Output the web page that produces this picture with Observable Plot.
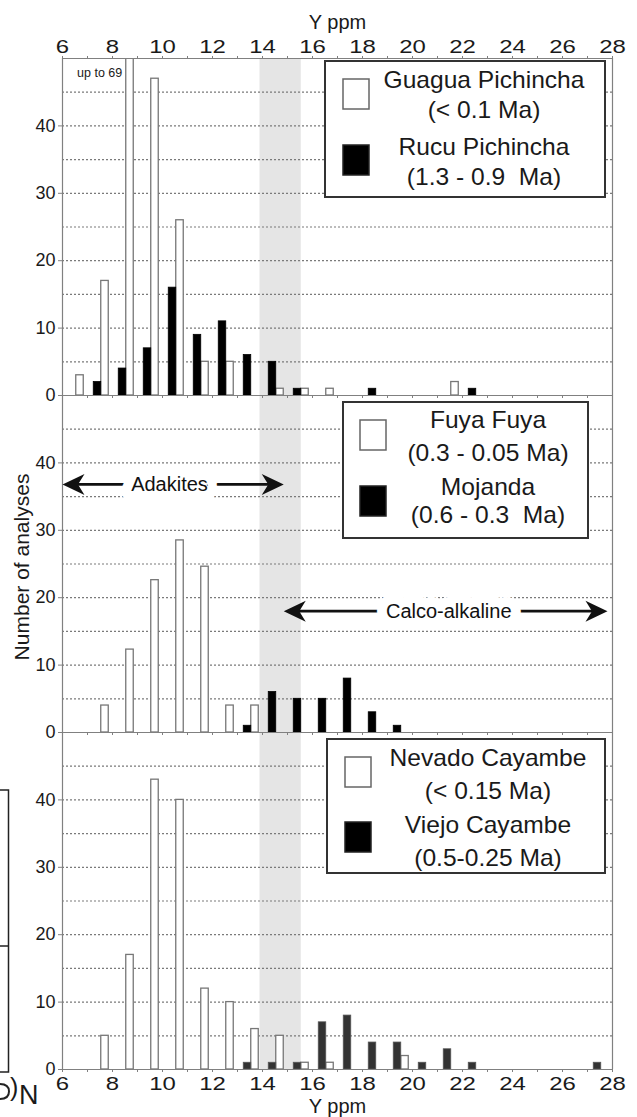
<!DOCTYPE html>
<html><head><meta charset="utf-8">
<script src="https://cdn.jsdelivr.net/npm/d3@7"></script>
<script src="https://cdn.jsdelivr.net/npm/@observablehq/plot@0.6"></script>
<style>
body{margin:0;background:#fff;}
#wrap{position:relative;width:637px;height:1117px;overflow:hidden;font-family:"Liberation Sans",Arial,sans-serif;}
#wrap svg{display:block}
</style></head><body><div id="wrap"></div>
<script>
// ---- data ----
const panels = ["Pichincha", "Mojanda / Fuya Fuya", "Cayambe"];

const guaguaBins   = [6, 7, 8, 9, 10, 11, 12, 14, 15, 16, 21];
const guaguaCounts = [3, 17, 69, 47, 26, 5, 5, 1, 1, 1, 2];
const rucuBins     = [7, 8, 9, 10, 11, 12, 13, 14, 15, 18, 22];
const rucuCounts   = [2, 4, 7, 16, 9, 11, 6, 5, 1, 1, 1];

const fuyaBins     = [7, 8, 9, 10, 11, 12, 13];
const fuyaCounts   = [4, 12.3, 22.6, 28.5, 24.6, 4, 4];
const mojandaBins  = [13, 14, 15, 16, 17, 18, 19];
const mojandaCounts= [1, 6, 5, 5, 8, 3, 1];

const nevadoBins   = [7, 8, 9, 10, 11, 12, 13, 14, 15, 16, 19];
const nevadoCounts = [5, 17, 43, 40, 12, 10, 6, 5, 1, 1, 2];
const viejoBins    = [13, 14, 15, 16, 17, 18, 19, 20, 21, 22, 27];
const viejoCounts  = [1, 1, 1, 7, 8, 4, 4, 1, 3, 1, 1];

const xTickLabels = [6, 8, 10, 12, 14, 16, 18, 20, 22, 24, 26, 28];
const xMinorTicks = [6,7,8,9,10,11,12,13,14,15,16,17,18,19,20,21,22,23,24,25,26,27,28];
const yTickLabels = [0, 10, 20, 30, 40];
const gridLevels  = [5, 10, 15, 20, 25, 30, 35, 40, 45];
const countMax = 50;
const transitionBand = [13.9, 15.55];

const legendEntries = [
  [["Guagua Pichincha", "(< 0.1 Ma)"], ["Rucu Pichincha", "(1.3 - 0.9  Ma)"]],
  [["Fuya Fuya", "(0.3 - 0.05 Ma)"], ["Mojanda", "(0.6 - 0.3  Ma)"]],
  [["Nevado Cayambe", "(< 0.15 Ma)"], ["Viejo Cayambe", "(0.5-0.25 Ma)"]]
];

const rangeArrows = [
  {panel: panels[1], label: "Adakites", from: 6, to: 14.85, level: 36.8, labelAt: 10.28},
  {panel: panels[1], label: "Calco-alkaline", from: 14.85, to: 27.8, level: 18, labelAt: 21.45}
];

// ---- build table ----
const series = [
  {panel: panels[0], kind: "young", bins: guaguaBins, counts: guaguaCounts},
  {panel: panels[0], kind: "old", bins: rucuBins, counts: rucuCounts},
  {panel: panels[1], kind: "young", bins: fuyaBins, counts: fuyaCounts},
  {panel: panels[1], kind: "old", bins: mojandaBins, counts: mojandaCounts},
  {panel: panels[2], kind: "young", bins: nevadoBins, counts: nevadoCounts},
  {panel: panels[2], kind: "old", bins: viejoBins, counts: viejoCounts}
];
const bars = series.flatMap(s => s.bins.map((b, i) => ({panel: s.panel, kind: s.kind, bin: b, count: s.counts[i]})));
const youngBars = bars.filter(d => d.kind === "young");
const oldBars = bars.filter(d => d.kind === "old");
const clippedBars = bars.filter(d => d.count > countMax);

const arrowHead = {
  draw(ctx) {
    ctx.moveTo(0, 0);
    ctx.lineTo(-22, -10.5);
    ctx.lineTo(-15.5, 0);
    ctx.lineTo(-22, 10.5);
    ctx.closePath();
  }
};

const ink = "#1a1a1a";
const axisGray = "#808080";

const chart = Plot.plot({
  width: 637,
  height: 1117,
  marginTop: 57,
  marginBottom: 48,
  marginLeft: 62,
  marginRight: 25,
  style: {fontFamily: "'Liberation Sans', Arial, sans-serif", fontSize: "18px", color: ink, background: "white", overflow: "visible"},
  x: {domain: [6, 28]},
  y: {domain: [0, countMax]},
  fy: {domain: panels, padding: 0, axis: null},
  marks: [
    Plot.rect([transitionBand], {x1: d => d[0], x2: d => d[1], fill: "#e5e5e5"}),
    Plot.ruleY(gridLevels, {stroke: "#7a7a7a", strokeDasharray: "2,2", strokeWidth: 1.2}),
    Plot.rect(youngBars, {x1: d => d.bin + 0.55, x2: d => d.bin + 0.85, y1: 0, y2: "count", fy: "panel",
      fill: "white", stroke: "#777", strokeWidth: 1.3, clip: true}),
    Plot.rect(oldBars, {x1: d => d.bin + 0.25, x2: d => d.bin + 0.55, y1: 0, y2: "count", fy: "panel",
      fill: d => d.panel === panels[2] ? "#333" : "#000", stroke: d => d.panel === panels[2] ? "#555" : "#000", strokeWidth: 0.8}),
    Plot.ruleY([0, countMax], {stroke: axisGray, strokeWidth: 1.2}),
    Plot.ruleX([6, 28], {stroke: axisGray, strokeWidth: 1.2}),
    // minor ticks on each panel base
    Plot.axisX({anchor: "bottom", facetAnchor: null, ticks: xMinorTicks, tickSize: 3, tickFormat: () => "", label: null, stroke: axisGray}),
    Plot.axisX({anchor: "top", ticks: xMinorTicks, tickSize: 3, tickFormat: () => "", label: null, stroke: axisGray}),
    Plot.axisX({anchor: "top", ticks: xTickLabels, tickSize: 0, tickPadding: 6, label: null, fontSize: 18}),
    Plot.axisX({anchor: "bottom", ticks: xTickLabels, tickSize: 0, tickPadding: 8, label: null, fontSize: 18}),
    Plot.axisY({ticks: yTickLabels, tickSize: 4, tickPadding: 3, label: null, facetAnchor: null, fontSize: 18, stroke: axisGray}),
    Plot.text(["Y ppm"], {fy: () => panels[0], frameAnchor: "top", dy: -30, lineAnchor: "bottom", fontSize: 20, fill: ink}),
    Plot.text(["Y ppm"], {fy: () => panels[2], frameAnchor: "bottom", dy: 43, lineAnchor: "bottom", fontSize: 20, fill: ink}),
    Plot.text(["Number of analyses"], {fy: () => panels[1], frameAnchor: "left", dx: -40, dy: 3, rotate: -90,
      textAnchor: "middle", fontSize: 21, fill: ink}),
    Plot.text(clippedBars, {x: d => d.bin + 0.55, fy: "panel", frameAnchor: "top", dx: -4, dy: 10, textAnchor: "end",
      text: d => `up to ${d.count}`, fontSize: 12.5, fill: ink}),
    // range annotations
    Plot.arrow(rangeArrows, {x1: "from", x2: "to", y1: "level", y2: "level", fy: "panel", headLength: 0,
      insetStart: 14, insetEnd: 14, strokeWidth: 2.7, stroke: "#111"}),
    Plot.text(rangeArrows, {x: "labelAt", y: "level", fy: "panel", text: "label", fontSize: 20, fill: "#111",
      stroke: "white", strokeWidth: 20, strokeLinejoin: "round", paintOrder: "stroke"}),
    Plot.dot(rangeArrows, {x: "from", y: "level", fy: "panel", symbol: arrowHead, rotate: 180, fill: "#111", stroke: "none"}),
    Plot.dot(rangeArrows, {x: "to", y: "level", fy: "panel", symbol: arrowHead, fill: "#111", stroke: "none"})
  ]
});

const wrap = document.getElementById("wrap");
wrap.append(chart);

// stretch x tick labels horizontally (reference uses wide digits)
d3.select(chart).selectAll('g[aria-label="x-axis tick label"] text').each(function() {
  const t = this.getAttribute("transform");
  if (t) this.setAttribute("transform", t + " scale(1.33,1)");
});

// ---- legends (overlay) ----
const legendLayout = [
  {box: [325, 61, 280, 136], sqX: 343, sqY: [79, 145], cx: 484, base: [88, 118, 155, 185]},
  {box: [343, 402, 245, 136], sqX: 360, sqY: [420, 486], cx: 488, base: [428, 461, 495, 523]},
  {box: [327, 739, 278, 134], sqX: 345, sqY: [757, 822], cx: 488, base: [766, 799, 833, 866]}
];
const overlay = d3.create("svg").attr("width", 637).attr("height", 1117)
  .style("position", "absolute").style("left", "0px").style("top", "0px")
  .style("font-family", "'Liberation Sans', Arial, sans-serif");
legendEntries.forEach((entries, p) => {
  const L = legendLayout[p];
  const g = overlay.append("g");
  g.append("rect").attr("x", L.box[0]).attr("y", L.box[1]).attr("width", L.box[2]).attr("height", L.box[3])
    .attr("fill", "white").attr("stroke", "#333").attr("stroke-width", 2);
  entries.forEach((lines, k) => {
    g.append("rect").attr("x", L.sqX).attr("y", L.sqY[k]).attr("width", 26).attr("height", 30)
      .attr("fill", k === 0 ? "white" : "#000").attr("stroke", k === 0 ? "#666" : "#222").attr("stroke-width", 1.5);
    lines.forEach((txt, j) => {
      g.append("text").attr("transform", `translate(${L.cx},${L.base[k * 2 + j]}) scale(1.07,1)`)
        .attr("text-anchor", "middle").attr("font-size", 23).attr("fill", ink)
        .style("white-space", "pre").text(txt);
    });
  });
});
// fragment of the neighbouring figure at the left edge
const frag = overlay.append("g").attr("stroke", "#222").attr("stroke-width", 1.5).attr("fill", "none");
frag.append("path").attr("d", "M0,790 H8.5 V1072 H0 M0,946 H8.5");
frag.append("path").attr("stroke-width", 2).attr("d", "M0,1084 C6,1084 9,1087 9,1091.5 C9,1096 6,1099 0,1099");
overlay.append("text").attr("x", 10).attr("y", 1096).attr("font-size", 25).attr("fill", ink).text(")");
overlay.append("text").attr("x", 19).attr("y", 1104).attr("font-size", 27).attr("fill", ink).text("N");
wrap.append(overlay.node());
</script>
</body></html>
